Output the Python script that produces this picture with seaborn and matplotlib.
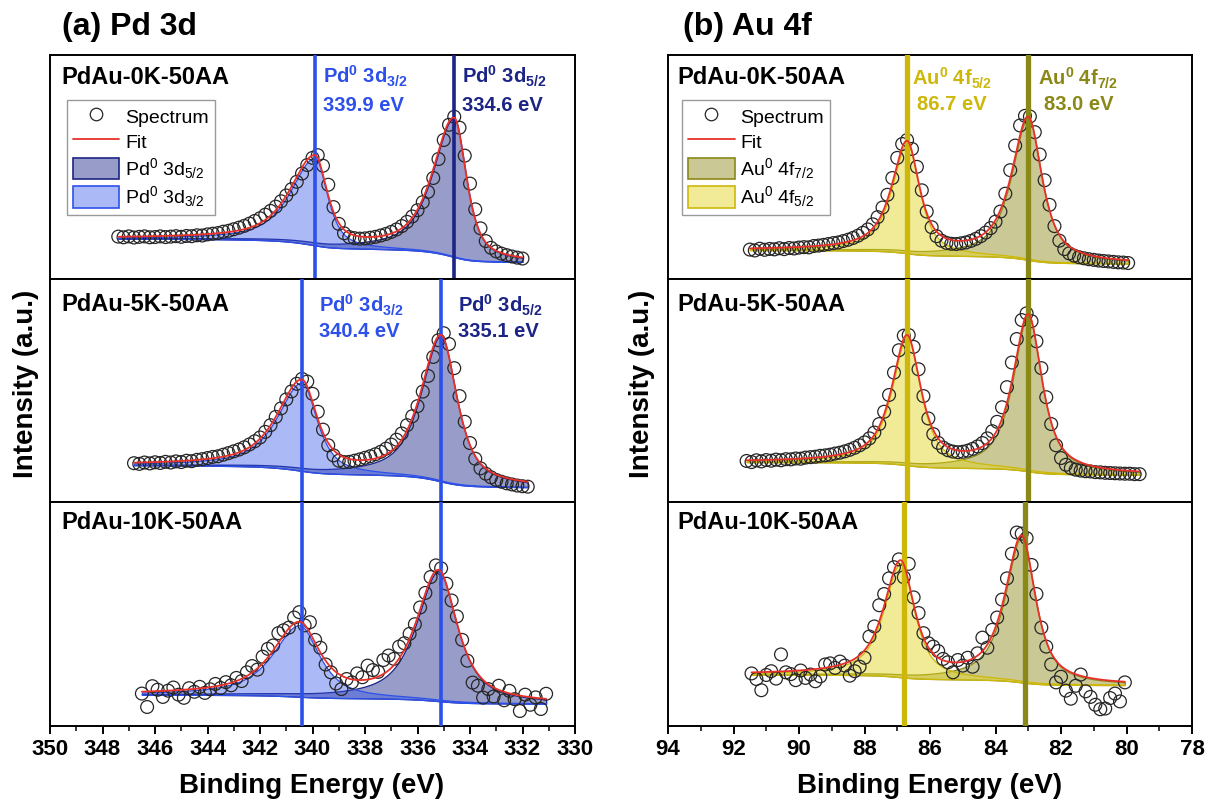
import numpy as np
import matplotlib
matplotlib.use("Agg")
import matplotlib.pyplot as plt
from matplotlib.colors import to_rgba
from matplotlib.lines import Line2D
from matplotlib.patches import Patch
import seaborn as sns

sns.set_theme(style="white")
plt.rcParams["font.family"] = ["Liberation Sans", "DejaVu Sans"]
plt.rcParams["mathtext.fontset"] = "custom"
plt.rcParams["mathtext.rm"] = "Liberation Sans"
plt.rcParams["mathtext.it"] = "Liberation Sans:italic"
plt.rcParams["mathtext.bf"] = "Liberation Sans:bold"
plt.rcParams["mathtext.default"] = "regular"
plt.rcParams["text.color"] = "black"
plt.rcParams["axes.labelcolor"] = "black"
plt.rcParams["xtick.color"] = "black"
plt.rcParams["legend.labelcolor"] = "black"

# ---------------------------------------------------------------- data
samples = ["PdAu-0K-50AA", "PdAu-5K-50AA", "PdAu-10K-50AA"]

# Pd 3d spectra, intensity (a.u.) every 0.2 eV from the start energy downwards
pd_step = 0.2
pd_start = [347.4, 346.8, 346.5]
pd_0k = [18.8, 18.5, 18.9, 18.4, 18.7, 18.9, 18.5, 18.6, 18.9, 18.6,
         18.8, 19.0, 18.7, 19.1, 19.0, 19.4, 19.3, 19.8, 20.1, 20.4,
         21.0, 21.4, 22.1, 22.8, 23.6, 24.6, 25.8, 27.0, 28.6, 30.3,
         32.2, 34.6, 37.2, 40.0, 43.3, 47.0, 50.8, 54.0, 55.2, 50.5,
         42.0, 32.0, 24.5, 20.3, 18.6, 18.1, 17.9, 18.0, 18.3, 18.7,
         19.3, 20.0, 20.9, 22.0, 23.5, 25.4, 27.8, 30.6, 34.2, 38.8,
         45.0, 53.5, 62.0, 68.8, 72.4, 67.5, 55.0, 42.5, 31.0, 22.5,
         16.8, 13.8, 12.2, 11.2, 10.5, 9.9, 9.4, 9.0]
pd_5k = [17.5, 17.2, 17.8, 17.4, 17.9, 17.6, 18.1, 17.8, 18.3, 18.0,
         18.6, 18.4, 19.0, 19.3, 19.8, 20.3, 20.6, 21.3, 22.0, 22.8,
         23.6, 24.6, 25.9, 27.3, 29.0, 31.5, 34.5, 38.2, 42.0, 46.0,
         49.6, 53.0, 55.2, 54.0, 48.5, 40.5, 32.5, 25.5, 21.0, 18.6,
         18.0, 18.1, 18.6, 19.2, 19.9, 20.6, 21.5, 22.6, 24.0, 25.8,
         28.0, 30.8, 34.5, 38.5, 43.0, 49.5, 56.5, 65.0, 72.5, 75.6,
         70.8, 60.0, 47.5, 36.0, 26.5, 19.5, 15.2, 12.8, 11.2, 10.0,
         9.2, 8.5, 8.0, 7.5, 7.2, 7.0]
pd_10k = [14.5, 8.5, 17.8, 16.2, 13.0, 15.8, 17.2, 14.0, 12.6, 16.9,
          15.3, 17.5, 14.8, 16.4, 18.8, 17.0, 19.6, 18.2, 21.5, 20.1,
          24.0, 26.8, 25.2, 31.0, 34.5, 36.0, 41.5, 42.8, 44.0, 48.5,
          50.9, 45.0, 46.4, 38.5, 35.0, 27.5, 24.0, 19.0, 16.5, 21.0,
          19.5, 23.5, 21.8, 27.0, 25.0, 24.2, 29.5, 31.5, 30.0, 35.5,
          37.0, 41.2, 45.5, 53.0, 59.5, 66.6, 71.8, 70.5, 63.6, 56.1,
          49.0, 38.5, 29.2, 19.4, 18.0, 12.7, 16.5, 13.2, 18.0, 11.5,
          15.7, 12.0, 6.7, 14.0, 9.5, 12.8, 7.6, 14.4]

# Pd 3d fit: asymmetric pseudo-Voigt components on a Shirley background
pd52_center = [334.6, 335.1, 335.2]
pd52_height = [62.0, 65.0, 58.0]
pd52_hw_high = [0.95, 0.90, 1.00]
pd52_hw_low = [0.55, 0.72, 0.85]
pd32_center = [339.9, 340.4, 340.5]
pd32_height = [39.0, 39.5, 32.0]
pd32_hw_high = [1.10, 1.10, 1.20]
pd32_hw_low = [0.55, 0.68, 0.90]
pd_eta = [0.70, 0.75, 0.80]
pd_bg_high = [17.9, 16.6, 14.0]
pd_bg_low = [7.5, 6.8, 10.0]
pd32_line = [339.9, 340.4, 340.4]
pd52_line = [334.6, 335.1, 335.1]

# Au 4f spectra, intensity (a.u.) every 0.15 eV from the start energy downwards
au_step = 0.15
au_start = [91.5, 91.6, 91.45]
au_0k = [13.0, 12.6, 13.4, 12.9, 13.3, 13.1, 13.6, 13.2, 13.7, 13.5,
         13.9, 14.1, 14.0, 14.6, 14.8, 15.1, 15.5, 15.9, 16.2, 16.8,
         17.4, 18.2, 19.2, 20.5, 22.0, 24.3, 27.5, 31.8, 37.5, 45.0,
         54.0, 60.2, 62.0, 58.0, 50.0, 39.5, 30.0, 23.0, 19.0, 17.0,
         16.0, 15.6, 15.5, 15.8, 16.2, 16.9, 17.8, 19.0, 20.6, 22.6,
         25.5, 30.0, 38.0, 48.5, 59.5, 68.5, 72.8, 72.5, 65.5, 55.5,
         44.0, 33.0, 23.5, 17.0, 13.2, 11.3, 10.3, 9.6, 9.1, 8.7,
         8.4, 8.1, 7.9, 7.7, 7.5, 7.3, 7.2, 7.0]
au_5k = [18.5, 18.0, 18.8, 18.3, 18.9, 18.6, 19.1, 18.8, 19.3, 19.2,
         19.6, 19.5, 20.0, 20.2, 20.4, 20.8, 21.0, 21.3, 21.8, 22.2,
         22.8, 23.5, 24.4, 25.5, 26.8, 28.6, 31.2, 35.0, 40.5, 48.0,
         58.0, 68.0, 74.5, 74.8, 69.5, 59.5, 47.5, 37.5, 30.5, 26.6,
         24.5, 23.3, 22.7, 22.4, 22.6, 23.1, 23.9, 25.0, 26.5, 28.6,
         31.8, 36.0, 42.5, 51.5, 62.5, 73.0, 81.5, 84.5, 81.0, 72.0,
         60.0, 47.0, 35.0, 25.5, 19.8, 16.8, 15.3, 14.6, 14.2, 13.9,
         13.8, 13.5, 13.4, 13.2, 13.1, 13.0, 12.9, 12.8, 12.8, 12.6,
         12.6]
au_10k = [23.5, 21.0, 16.0, 22.8, 24.5, 21.2, 32.0, 24.0, 23.2, 20.5,
          24.8, 21.5, 23.0, 20.0, 22.2, 27.5, 28.0, 26.0, 28.8, 27.0,
          22.5, 24.5, 26.5, 30.5, 40.0, 44.5, 54.0, 59.0, 66.0, 71.0,
          74.5, 66.5, 72.5, 57.5, 50.5, 41.5, 37.0, 35.5, 33.5, 30.0,
          28.5, 24.0, 29.5, 27.0, 30.5, 26.5, 32.5, 39.5, 35.0, 43.0,
          48.5, 56.5, 66.0, 77.0, 86.5, 86.0, 84.0, 72.0, 59.0, 44.0,
          35.5, 27.5, 19.5, 22.0, 15.8, 12.2, 18.0, 23.0, 15.5, 13.0,
          9.5, 7.5, 7.8, 12.5, 14.5, 11.0, 19.5]

# Au 4f fit components
au72_center = [83.0, 83.0, 83.2]
au72_height = [63.5, 69.5, 65.0]
au72_hw_high = [0.60, 0.55, 0.60]
au72_hw_low = [0.50, 0.50, 0.50]
au52_center = [86.7, 86.7, 86.9]
au52_height = [49.0, 57.0, 51.0]
au52_hw_high = [0.55, 0.55, 0.60]
au52_hw_low = [0.45, 0.50, 0.50]
au_eta = [0.80, 0.80, 0.80]
au_bg_high = [12.8, 18.0, 23.0]
au_bg_low = [6.8, 12.4, 18.3]
au52_line = [86.7, 86.7, 86.8]
au72_line = [83.0, 83.0, 83.1]

# ---------------------------------------------------------------- styles
DOT = "#262626"
FIT_RED = "#e8302a"
PD_BLUE = "#2d50ea"
PD_NAVY = "#1c2486"
AU_YELLOW = "#cdb80a"
AU_OLIVE = "#8a8816"
PD52_FILL = to_rgba("#1c2486", 0.45)
PD32_FILL = to_rgba("#2d50ea", 0.40)
AU72_FILL = to_rgba("#8a8816", 0.45)
AU52_FILL = to_rgba("#e2d41c", 0.45)


def peak(x, center, height, hw_high, hw_low, eta):
    hw = np.where(x >= center, hw_high, hw_low)
    u = (x - center) / hw
    return height * (eta / (1.0 + u ** 2) + (1.0 - eta) * np.exp(-np.log(2.0) * u ** 2))


def shirley(x, total, level_high, level_low):
    """Step background proportional to the peak area on the low-energy side."""
    xa = x[::-1]
    ta = total[::-1]
    area = np.concatenate([[0.0], np.cumsum(0.5 * (ta[1:] + ta[:-1]) * np.diff(xa))])
    return (level_low + (level_high - level_low) * area / area[-1])[::-1]


def draw_spectrum(ax, energy, counts, comps, eta, bg_levels, fills):
    x = np.linspace(energy[0], energy[-1], 900)
    curves = [peak(x, *p, eta) for p in comps]
    total = curves[0] + curves[1]
    bg = shirley(x, total, *bg_levels)
    for curve, (face, edge) in zip(curves, fills):
        ax.fill_between(x, bg, bg + curve, facecolor=face, edgecolor=edge,
                        linewidth=0.9, zorder=1)
    sns.scatterplot(x=energy, y=counts, ax=ax, s=85, marker="o", color=DOT,
                    facecolor="none", edgecolor=DOT, linewidth=0.9,
                    zorder=3, legend=False)
    ax.collections[-1].set_facecolor("none")
    sns.lineplot(x=x, y=bg + total, ax=ax, color=FIT_RED, linewidth=1.3,
                 sort=False, estimator=None, zorder=6, legend=False)


def style_axes(ax, xlim, ticks, minor, bottom):
    ax.set_xlim(*xlim)
    ax.set_ylim(0, 100)
    ax.set_yticks([])
    ax.set_xlabel("")
    ax.set_ylabel("")
    for sp in ax.spines.values():
        sp.set_linewidth(1.4)
        sp.set_color("black")
    if bottom:
        ax.set_xticks(ticks, labels=[f"{t:d}" for t in ticks],
                      fontsize=16, fontweight="bold")
        ax.set_xticks(minor, minor=True)
        ax.tick_params(axis="x", which="major", bottom=True, direction="out",
                       length=6, width=1.4, pad=3, colors="black")
        ax.tick_params(axis="x", which="minor", bottom=True, direction="out",
                       length=3.5, width=1.1, colors="black")
    else:
        ax.tick_params(axis="x", which="both", bottom=False, labelbottom=False)


fig = plt.figure(figsize=(12.07, 8.05), dpi=100)
TOP, BOTTOM = 1 - 55 / 805, 1 - 726 / 805
gs_pd = fig.add_gridspec(3, 1, left=50 / 1207, right=575 / 1207, top=TOP,
                         bottom=BOTTOM, hspace=0)
gs_au = fig.add_gridspec(3, 1, left=668 / 1207, right=1192 / 1207, top=TOP,
                         bottom=BOTTOM, hspace=0)

pd_series = [pd_0k, pd_5k, pd_10k]
au_series = [au_0k, au_5k, au_10k]
sample_y = [0.90, 0.884, 0.91]

# ---------------- (a) Pd 3d
pd_axes = [fig.add_subplot(gs_pd[i]) for i in range(3)]
for i, ax in enumerate(pd_axes):
    counts = np.array(pd_series[i])
    energy = pd_start[i] - pd_step * np.arange(len(counts))
    comps = [(pd52_center[i], pd52_height[i], pd52_hw_high[i], pd52_hw_low[i]),
             (pd32_center[i], pd32_height[i], pd32_hw_high[i], pd32_hw_low[i])]
    draw_spectrum(ax, energy, counts, comps, pd_eta[i],
                  (pd_bg_high[i], pd_bg_low[i]),
                  [(PD52_FILL, PD_NAVY), (PD32_FILL, PD_BLUE)])
    ax.axvline(pd32_line[i], color=PD_BLUE, linewidth=2.6, zorder=5)
    ax.axvline(pd52_line[i], color=PD_NAVY if i == 0 else PD_BLUE,
               linewidth=2.6, zorder=5)
    style_axes(ax, (350, 330), list(range(350, 329, -2)),
               list(range(349, 330, -2)), i == 2)
    ax.text(0.022, sample_y[i], samples[i], transform=ax.transAxes,
            fontsize=17, fontweight="bold", ha="left", va="center", zorder=8)

# peak labels
pd_text_rows = [(0, 0.3, 90.3, 77.6), (1, 0.65, 88.2, 76.4)]
for i, dx, y1, y2 in pd_text_rows:
    ax = pd_axes[i]
    for e, name, col in [(pd32_line[i], "Pd$^0$ 3d$_{3/2}$", PD_BLUE),
                         (pd52_line[i], "Pd$^0$ 3d$_{5/2}$", PD_NAVY)]:
        ax.text(e - dx, y1, name, color=col, fontsize=14.5, fontweight="bold",
                ha="left", va="center", zorder=8)
        ax.text(e - dx, y2, f"{e:.1f} eV", color=col, fontsize=14.5,
                fontweight="bold", ha="left", va="center", zorder=8)

pd_handles = [
    Line2D([], [], ls="none", marker="o", ms=9, mfc="none", mec=DOT, mew=0.9),
    Line2D([], [], color=FIT_RED, lw=1.3),
    Patch(facecolor=PD52_FILL, edgecolor=PD_NAVY, linewidth=1.2),
    Patch(facecolor=PD32_FILL, edgecolor=PD_BLUE, linewidth=1.2),
]
pd_labels = ["Spectrum", "Fit", "Pd$^0$ 3d$_{5/2}$", "Pd$^0$ 3d$_{3/2}$"]

# ---------------- (b) Au 4f
au_axes = [fig.add_subplot(gs_au[i]) for i in range(3)]
for i, ax in enumerate(au_axes):
    counts = np.array(au_series[i])
    energy = au_start[i] - au_step * np.arange(len(counts))
    comps = [(au72_center[i], au72_height[i], au72_hw_high[i], au72_hw_low[i]),
             (au52_center[i], au52_height[i], au52_hw_high[i], au52_hw_low[i])]
    draw_spectrum(ax, energy, counts, comps, au_eta[i],
                  (au_bg_high[i], au_bg_low[i]),
                  [(AU72_FILL, AU_OLIVE), (AU52_FILL, AU_YELLOW)])
    ax.axvline(au52_line[i], color=AU_YELLOW, linewidth=3.8, zorder=5)
    ax.axvline(au72_line[i], color=AU_OLIVE, linewidth=3.8, zorder=5)
    style_axes(ax, (94, 78), list(range(94, 77, -2)),
               list(range(93, 78, -2)), i == 2)
    ax.text(0.018, sample_y[i], samples[i], transform=ax.transAxes,
            fontsize=17, fontweight="bold", ha="left", va="center", zorder=8)

ax = au_axes[0]
for e, cx, name, col in [(au52_line[0], 85.33, "Au$^0$ 4f$_{5/2}$", AU_YELLOW),
                         (au72_line[0], 81.47, "Au$^0$ 4f$_{7/2}$", AU_OLIVE)]:
    ax.text(cx, 89.4, name, color=col, fontsize=14.5, fontweight="bold",
            ha="center", va="center", zorder=8)
    ax.text(cx, 77.7, f"{e:.1f} eV", color=col, fontsize=14.5,
            fontweight="bold", ha="center", va="center", zorder=8)

au_handles = [
    Line2D([], [], ls="none", marker="o", ms=9, mfc="none", mec=DOT, mew=0.9),
    Line2D([], [], color=FIT_RED, lw=1.3),
    Patch(facecolor=AU72_FILL, edgecolor=AU_OLIVE, linewidth=1.2),
    Patch(facecolor=AU52_FILL, edgecolor=AU_YELLOW, linewidth=1.2),
]
au_labels = ["Spectrum", "Fit", "Au$^0$ 4f$_{7/2}$", "Au$^0$ 4f$_{5/2}$"]

for ax, handles, labels, x0 in [(pd_axes[0], pd_handles, pd_labels, 0.032),
                                (au_axes[0], au_handles, au_labels, 0.027)]:
    leg = ax.legend(handles, labels, loc="upper left", bbox_to_anchor=(x0, 0.80),
                    fontsize=14, frameon=True, fancybox=False, framealpha=1,
                    edgecolor="#9a9a9a", borderpad=0.3, labelspacing=0.2,
                    handlelength=2.4, handleheight=1.3, handletextpad=0.3,
                    borderaxespad=0)
    leg.get_frame().set_linewidth(1.0)
    leg.set_zorder(9)

# ---------------- panel titles and axis labels
mid_y = 0.5 * (TOP + BOTTOM)
fig.text(62 / 1207, 1 - 27 / 805, "(a) Pd 3d", fontsize=23, fontweight="bold",
         ha="left", va="center")
fig.text(683 / 1207, 1 - 27 / 805, "(b) Au 4f", fontsize=23, fontweight="bold",
         ha="left", va="center")
for xc in (26 / 1207, 642 / 1207):
    fig.text(xc, mid_y + 0.008, "Intensity (a.u.)", rotation=90, fontsize=20,
             fontweight="bold", ha="center", va="center")
for xc in (312 / 1207, 930 / 1207):
    fig.text(xc, 1 - 786 / 805, "Binding Energy (eV)", fontsize=20,
             fontweight="bold", ha="center", va="center")

fig.savefig("out.png", dpi=100)
